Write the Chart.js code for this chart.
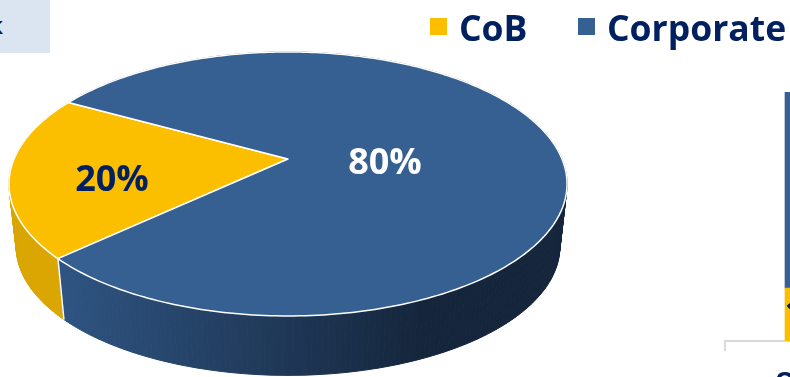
<!DOCTYPE html>
<html>
<head>
<meta charset="utf-8">
<script src="https://cdn.jsdelivr.net/npm/chart.js@4"></script>
<style>
html, body { margin: 0; padding: 0; background: #fff; }
body { position: relative; width: 790px; height: 377px; overflow: hidden; font-family: "Open Sans", sans-serif; }
#pieChart { position: absolute; left: 0; top: 0; }
#barWrap { position: absolute; left: 700px; top: 91px; width: 185px; height: 324px; }
#tag { position: absolute; left: 0; top: 0; width: 50px; height: 53px; background: #dbe5f1; overflow: hidden; }
#tag span { position: absolute; right: 47px; top: 8px; font-size: 24px; font-weight: 700; color: #002060; white-space: nowrap; }
.legend-item { position: absolute; top: 4px; font-size: 35.5px; font-weight: 700; color: #002060; line-height: 46px; white-space: nowrap; }
.legend-box { position: absolute; top: 18px; width: 17px; height: 17px; }
</style>
</head>
<body>
<canvas id="pieChart" width="790" height="377"></canvas>
<div id="barWrap"><canvas id="barChart"></canvas></div>
<div id="tag"><span>k</span></div>
<div id="legend"></div>
<script>
// === SHARE OF SPEND ===
const categories = ['CoB', 'Corporate'];
const shares = [20, 80];
const colours = ['#fcbf00', '#376092'];
const wallColours = [['#d9a500', '#dba600'], ['#2f5583', '#15263c']];

const barCategory = ['Over'];
const barCoB = [14];
const barCorporate = [52];

// perspective disc: unit circle (u, v) projected onto the page
const DISC = { cx: 288, cy: 159, a: 274, b: 127.3, k: 0.189 };
const WALL = { drop: 63.5, shrink: 0.974 };

function topPoint(angle) {
    const u = Math.cos(angle), v = Math.sin(angle);
    const w = 1 - DISC.k * v;
    return { x: DISC.cx + DISC.a * u / w, y: DISC.cy + DISC.b * v / w };
}

function bottomPoint(angle) {
    const p = topPoint(angle);
    return {
        x: DISC.cx + (p.x - DISC.cx) * WALL.shrink,
        y: DISC.cy + WALL.drop + (p.y - DISC.cy) * WALL.shrink
    };
}

function arcSteps(start, end) {
    const n = Math.max(2, Math.ceil((end - start) / (Math.PI / 180)));
    const out = [];
    for (let i = 0; i <= n; i++) out.push(start + (end - start) * i / n);
    return out;
}

// replaces the flat arcs with an extruded, tilted disc
const tiltedPie = {
    id: 'tiltedPie',
    beforeDatasetsDraw(chart) {
        const ctx = chart.ctx;
        const arcs = chart.getDatasetMeta(0).data;
        ctx.save();
        ctx.lineJoin = 'round';

        // side walls first, the top face hides whatever is at the back
        arcs.forEach((arc, i) => {
            const grad = ctx.createLinearGradient(i === 0 ? 9 : 55, 0, i === 0 ? 61 : 420, 0);
            grad.addColorStop(0, wallColours[i][0]);
            grad.addColorStop(1, wallColours[i][1]);
            ctx.fillStyle = grad;
            ctx.strokeStyle = grad;
            ctx.lineWidth = 1;
            const steps = arcSteps(arc.startAngle, arc.endAngle);
            for (let s = 0; s < steps.length - 1; s++) {
                const a = topPoint(steps[s]), b = topPoint(steps[s + 1]);
                const c = bottomPoint(steps[s + 1]), d = bottomPoint(steps[s]);
                ctx.beginPath();
                ctx.moveTo(a.x, a.y);
                ctx.lineTo(b.x, b.y);
                ctx.lineTo(c.x, c.y);
                ctx.lineTo(d.x, d.y);
                ctx.closePath();
                ctx.fill();
                ctx.stroke();
            }
        });

        // seam between the two walls on the front
        const seamA = topPoint(arcs[0].startAngle), seamB = bottomPoint(arcs[0].startAngle);
        ctx.strokeStyle = '#fff';
        ctx.lineWidth = 1.5;
        ctx.beginPath();
        ctx.moveTo(seamA.x, seamA.y);
        ctx.lineTo(seamB.x, seamB.y);
        ctx.stroke();

        // top faces
        arcs.forEach((arc, i) => {
            ctx.beginPath();
            ctx.moveTo(DISC.cx, DISC.cy);
            arcSteps(arc.startAngle, arc.endAngle).forEach(t => {
                const p = topPoint(t);
                ctx.lineTo(p.x, p.y);
            });
            ctx.closePath();
            ctx.fillStyle = arc.options.backgroundColor;
            ctx.fill();
            ctx.strokeStyle = arc.options.borderColor;
            ctx.lineWidth = arc.options.borderWidth;
            ctx.stroke();
        });

        ctx.restore();
        return false;
    },
    // afterDatasetsDraw is skipped once the hook above cancels, so labels go here
    afterDraw(chart) {
        const ctx = chart.ctx;
        const spots = [{ x: 112, y: 181, color: '#002060' }, { x: 385, y: 164, color: '#ffffff' }];
        ctx.save();
        ctx.font = '700 36px "Open Sans", sans-serif';
        ctx.textAlign = 'center';
        ctx.textBaseline = 'middle';
        shares.forEach((v, i) => {
            ctx.fillStyle = spots[i].color;
            ctx.fillText(v + '%', spots[i].x, spots[i].y);
        });
        ctx.restore();
    }
};

new Chart(document.getElementById('pieChart'), {
    type: 'pie',
    data: {
        labels: categories,
        datasets: [{ data: shares, backgroundColor: colours, borderColor: '#ffffff', borderWidth: 1.5 }]
    },
    options: {
        responsive: false,
        animation: false,
        rotation: 227,
        plugins: { legend: { display: false }, tooltip: { enabled: false } }
    },
    plugins: [tiltedPie]
});

// legend built from the chart's own names and colours
const legendEl = document.getElementById('legend');
const legendBoxX = [430, 578];
const legendTextX = [459, 607];
categories.forEach((name, i) => {
    const box = document.createElement('div');
    box.className = 'legend-box';
    box.style.left = legendBoxX[i] + 'px';
    box.style.background = colours[i];
    legendEl.appendChild(box);
    const text = document.createElement('div');
    text.className = 'legend-item';
    text.style.left = legendTextX[i] + 'px';
    text.textContent = name;
    legendEl.appendChild(text);
});

// value label for the lower bar segment
const barValueLabels = {
    id: 'barValueLabels',
    afterDatasetsDraw(chart) {
        const ctx = chart.ctx;
        ctx.save();
        ctx.font = '700 36px "Open Sans", sans-serif';
        ctx.textAlign = 'center';
        ctx.textBaseline = 'middle';
        ctx.fillStyle = '#002060';
        const el = chart.getDatasetMeta(0).data[0];
        ctx.fillText(String(barCoB[0]), el.x, (el.y + el.base) / 2);
        ctx.restore();
    }
};

new Chart(document.getElementById('barChart'), {
    type: 'bar',
    data: {
        labels: barCategory,
        datasets: [
            { label: categories[0], data: barCoB, backgroundColor: colours[0], barThickness: 40 },
            { label: categories[1], data: barCorporate, backgroundColor: colours[1], barThickness: 40 }
        ]
    },
    options: {
        responsive: true,
        maintainAspectRatio: false,
        animation: false,
        layout: { padding: { left: 25, right: 0, top: 1, bottom: 0 } },
        plugins: { legend: { display: false }, tooltip: { enabled: false } },
        scales: {
            x: {
                stacked: true,
                offset: true,
                border: { color: '#d9d9d9', width: 2 },
                grid: { display: true, color: '#d9d9d9', lineWidth: 2, drawOnChartArea: false, tickLength: 10, offset: true },
                ticks: { color: '#002060', font: { size: 25, weight: '700', family: '"Open Sans", sans-serif' }, padding: 17, maxRotation: 0 }
            },
            y: { stacked: true, display: false, min: 0, max: barCoB[0] + barCorporate[0] }
        }
    },
    plugins: [barValueLabels]
});
</script>
</body>
</html>
